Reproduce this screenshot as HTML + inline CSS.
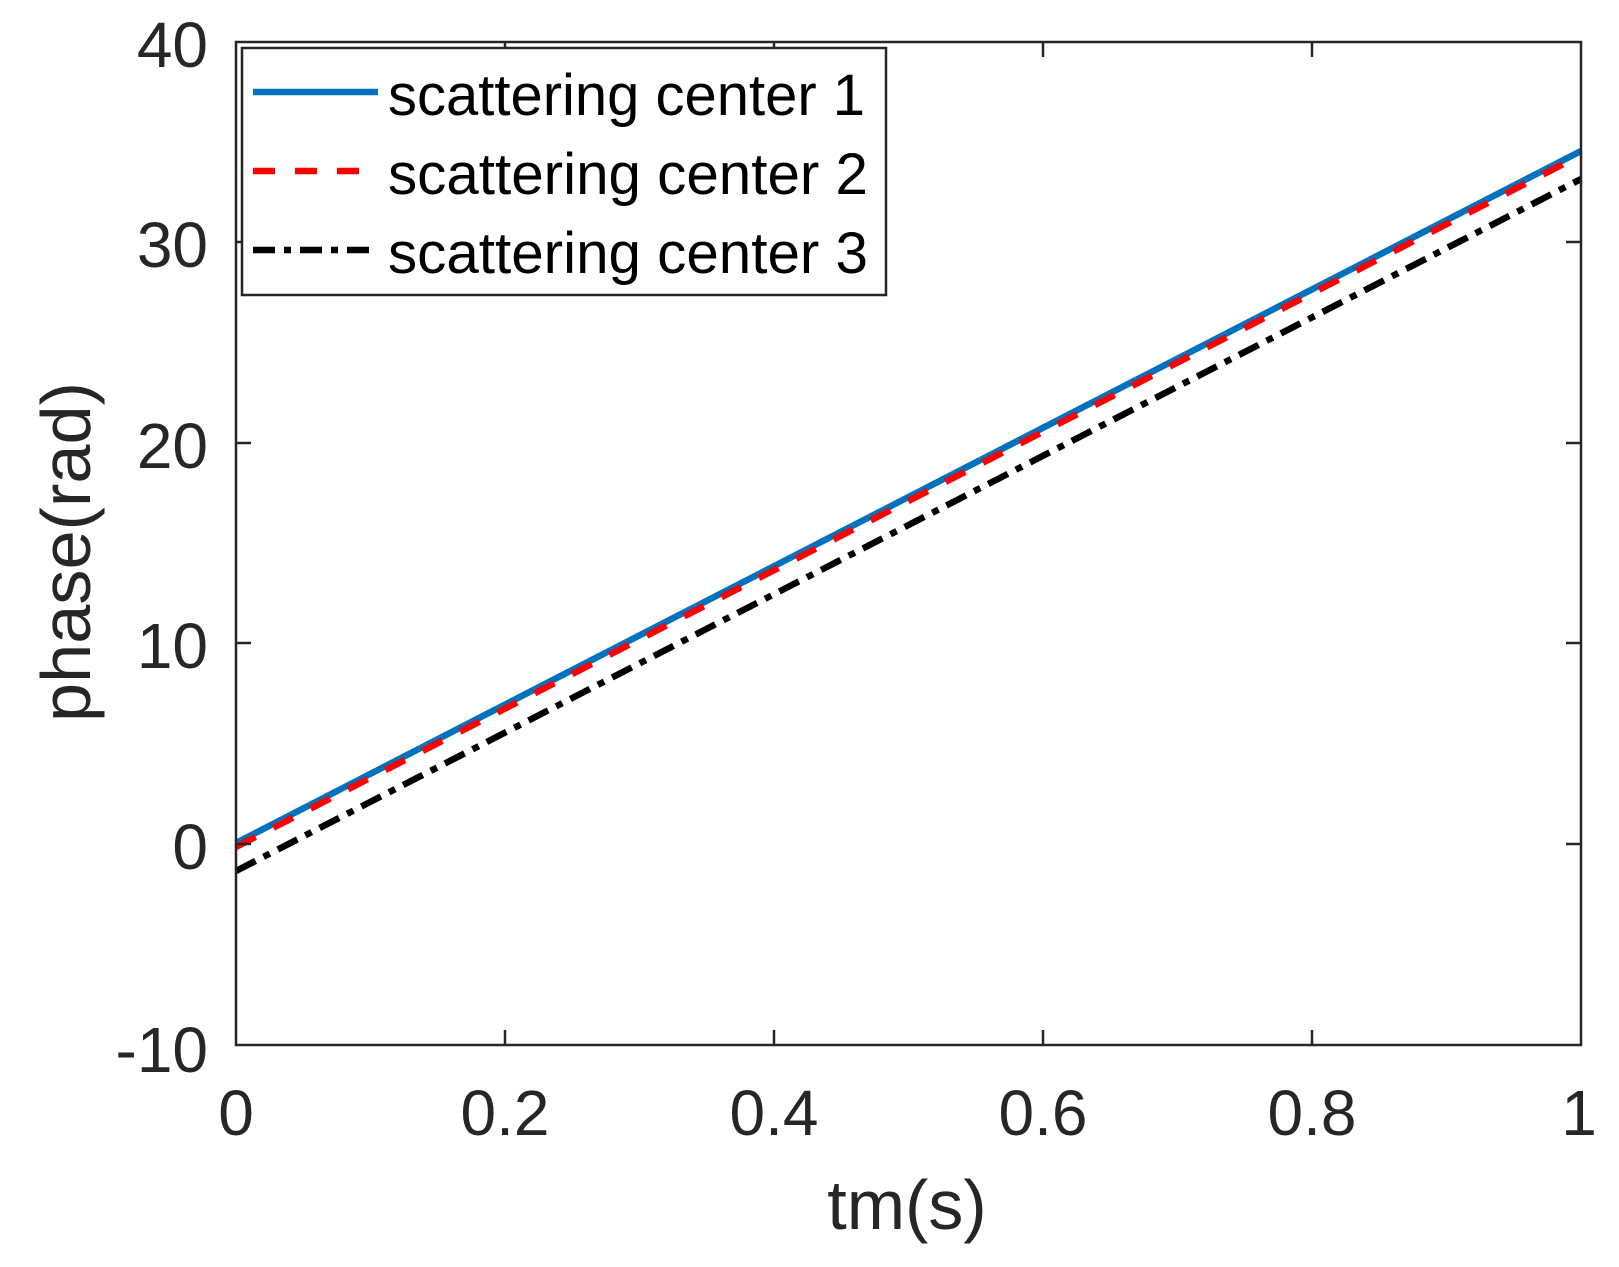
<!DOCTYPE html>
<html><head><meta charset="utf-8"><style>html,body{margin:0;padding:0;background:#fff}svg{display:block}</style></head>
<body>
<svg width="1619" height="1267" viewBox="0 0 1619 1267" xmlns="http://www.w3.org/2000/svg" font-family="Liberation Sans, Arial, sans-serif">
<rect width="1619" height="1267" fill="#fff"/>
<line x1="236" y1="843" x2="1581" y2="151" stroke="#0072BD" stroke-width="6.5"/>
<line x1="236" y1="847" x2="1581" y2="155" stroke="#FF0000" stroke-width="6.5" stroke-dasharray="22,20"/>
<line x1="236" y1="871" x2="1581" y2="179" stroke="#000" stroke-width="6.5" stroke-dasharray="22,9,7,9"/>
<rect x="236" y="42" width="1345" height="1003" fill="none" stroke="#262626" stroke-width="2.5"/>
<g stroke="#262626" stroke-width="2.5">
<line x1="505" y1="1045" x2="505" y2="1030"/><line x1="774" y1="1045" x2="774" y2="1030"/><line x1="1043" y1="1045" x2="1043" y2="1030"/><line x1="1312" y1="1045" x2="1312" y2="1030"/>
<line x1="505" y1="42" x2="505" y2="57"/><line x1="774" y1="42" x2="774" y2="57"/><line x1="1043" y1="42" x2="1043" y2="57"/><line x1="1312" y1="42" x2="1312" y2="57"/>
<line x1="236" y1="242" x2="251" y2="242"/><line x1="236" y1="443" x2="251" y2="443"/><line x1="236" y1="643" x2="251" y2="643"/><line x1="236" y1="844" x2="251" y2="844"/>
<line x1="1581" y1="242" x2="1566" y2="242"/><line x1="1581" y1="443" x2="1566" y2="443"/><line x1="1581" y1="643" x2="1566" y2="643"/><line x1="1581" y1="844" x2="1566" y2="844"/>
</g>
<g fill="#262626" font-size="64" text-anchor="end">
<text x="208" y="67">40</text><text x="208" y="267">30</text><text x="208" y="468">20</text><text x="208" y="668">10</text><text x="208" y="869">0</text><text x="208" y="1072">-10</text>
</g>
<g fill="#262626" font-size="64" text-anchor="middle">
<text x="236" y="1135">0</text><text x="505" y="1135">0.2</text><text x="774" y="1135">0.4</text><text x="1043" y="1135">0.6</text><text x="1312" y="1135">0.8</text><text x="1579" y="1135">1</text>
</g>
<text x="907" y="1229" font-size="70" fill="#262626" text-anchor="middle">tm(s)</text>
<text transform="translate(90,552) rotate(-90)" font-size="70" fill="#262626" text-anchor="middle" textLength="340" lengthAdjust="spacingAndGlyphs">phase(rad)</text>
<rect x="242" y="48" width="644" height="247" fill="#fff" stroke="#262626" stroke-width="2.5"/>
<line x1="253" y1="92" x2="378" y2="92" stroke="#0072BD" stroke-width="6.5"/>
<line x1="253" y1="171" x2="378" y2="171" stroke="#FF0000" stroke-width="6.5" stroke-dasharray="22,20"/>
<line x1="253" y1="250" x2="378" y2="250" stroke="#000" stroke-width="6.5" stroke-dasharray="22,9,7,9"/>
<g font-size="58" fill="#000">
<text x="388" y="115" textLength="477" lengthAdjust="spacingAndGlyphs">scattering center 1</text>
<text x="388" y="194" textLength="480" lengthAdjust="spacingAndGlyphs">scattering center 2</text>
<text x="388" y="273" textLength="480" lengthAdjust="spacingAndGlyphs">scattering center 3</text>
</g>
</svg>
</body></html>
